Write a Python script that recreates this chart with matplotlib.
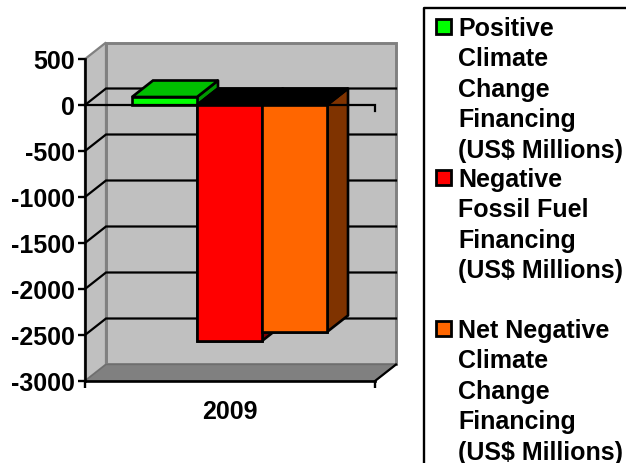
import matplotlib
matplotlib.use('Agg')
import matplotlib.pyplot as plt
from matplotlib.patches import Polygon, Rectangle

plt.rcParams['font.family'] = ['Liberation Sans', 'DejaVu Sans']
plt.rcParams['font.weight'] = 'bold'

# datos
categoria = '2009'
valores = [87, -2565, -2467]
colores = ['#00FF00', '#FF0000', '#FF6600']
colores_lado = ['#009900', '#800000', '#7F3300']
color_tope_verde = '#00BF00'
etiquetas = ['Positive\nClimate\nChange\nFinancing\n(US$ Millions)',
             'Negative\nFossil Fuel\nFinancing\n(US$ Millions)',
             'Net Negative\nClimate\nChange\nFinancing\n(US$ Millions)']
marcas_y = [500, 0, -500, -1000, -1500, -2000, -2500, -3000]

W, H = 626, 464
fig = plt.figure(figsize=(W / 100, H / 100), dpi=100)
ax = fig.add_axes([85 / W, 1 - 382 / H, 290 / W, 322 / H])
ax.set_xlim(0, 1)
ax.set_ylim(-3000, 500)
ax.patch.set_visible(False)

# profundidad 3D en unidades de datos
dx = 21 / 290
dy = 16.5 / 0.092
LW = 1.9
TOP, BOT = 500, -3000

# paredes
ax.add_patch(Polygon([(dx, BOT + dy), (1 + dx, BOT + dy), (1 + dx, TOP + dy), (dx, TOP + dy)],
                     fc='#C0C0C0', ec='#808080', lw=2.1, zorder=1, clip_on=False))
ax.add_patch(Polygon([(0, BOT), (dx, BOT + dy), (dx, TOP + dy), (0, TOP)],
                     fc='#C0C0C0', ec='#808080', lw=1.6, zorder=1, clip_on=False))
ax.add_patch(Polygon([(0, BOT), (1, BOT), (1 + dx, BOT + dy), (dx, BOT + dy)],
                     fc='#808080', ec='#6E6E6E', lw=1, zorder=1.5, clip_on=False))

# lineas de grilla
for v in marcas_y[1:-1]:
    ax.plot([0, dx, 1 + dx], [v, v + dy, v + dy], color='black', lw=1.6, zorder=2,
            clip_on=False, solid_joinstyle='miter')
ax.plot([1, 1 + dx], [BOT, BOT + dy], color='black', lw=1.6, zorder=2, clip_on=False)

# barras
ancho = 65 / 290
x0 = 47 / 290
xs = [x0 + ancho * (i + 0.5) for i in range(3)]
for i, v in enumerate(valores):
    xl = xs[i] - ancho / 2
    xr = xs[i] + ancho / 2
    z = 3 + i
    ax.add_patch(Polygon([(xr, 0), (xr + dx, dy), (xr + dx, v + dy), (xr, v)],
                         fc=colores_lado[i], ec='black', lw=LW, zorder=z, clip_on=False,
                         joinstyle='round'))
    tope = color_tope_verde if v > 0 else 'black'
    ax.add_patch(Polygon([(xl, max(v, 0)), (xr, max(v, 0)), (xr + dx, max(v, 0) + dy), (xl + dx, max(v, 0) + dy)],
                         fc=tope, ec='black', lw=LW, zorder=z, clip_on=False))
    ax.bar(xs[i], v, width=ancho, color=colores[i], edgecolor='black', linewidth=LW,
           zorder=z + 0.5, clip_on=False)

# linea de cero y su marca
ax.plot([0, 1, 1], [0, 0, -65], color='black', lw=1.6, zorder=7, clip_on=False,
        solid_joinstyle='miter')
ax.bar(xs[1], valores[1], width=ancho, color=colores[1], edgecolor='black', linewidth=LW, zorder=8)
ax.bar(xs[2], valores[2], width=ancho, color=colores[2], edgecolor='black', linewidth=LW, zorder=8)

# ejes
for s in ['top', 'right']:
    ax.spines[s].set_visible(False)
for s in ['left', 'bottom']:
    ax.spines[s].set_linewidth(1.9)
    ax.spines[s].set_zorder(9)
ax.set_yticks(marcas_y)
ax.set_yticklabels([str(v) for v in marcas_y], fontsize=18, fontweight='bold')
ax.tick_params(axis='y', length=5, width=1.7, pad=2)
ax.set_xticks([0, 1])
ax.set_xticklabels(['', ''])
ax.tick_params(axis='x', length=5, width=1.7)
ax.set_xticks([0.5], [categoria], minor=True, fontsize=18, fontweight='bold')
ax.tick_params(axis='x', which='minor', length=0, pad=13)

# leyenda
fig.add_artist(plt.Line2D([1, 424 / W, 424 / W], [1 - 9 / H, 1 - 9 / H, 0],
                          color='black', lw=1.7, transform=fig.transFigure))
ley_y = [27, 178, 329]
for i, etiqueta in enumerate(etiquetas):
    y = 1 - ley_y[i] / H
    fig.add_artist(Rectangle((436 / W, 1 - (ley_y[i] + 8) / H), 15 / W, 15 / H, fc=colores[i],
                             ec='black', lw=2.0, transform=fig.transFigure))
    fig.text(458 / W, y + 10 / H, etiqueta, fontsize=18, fontweight='bold', va='top', ha='left',
             linespacing=1.34)

fig.savefig('out.png', dpi=100)
